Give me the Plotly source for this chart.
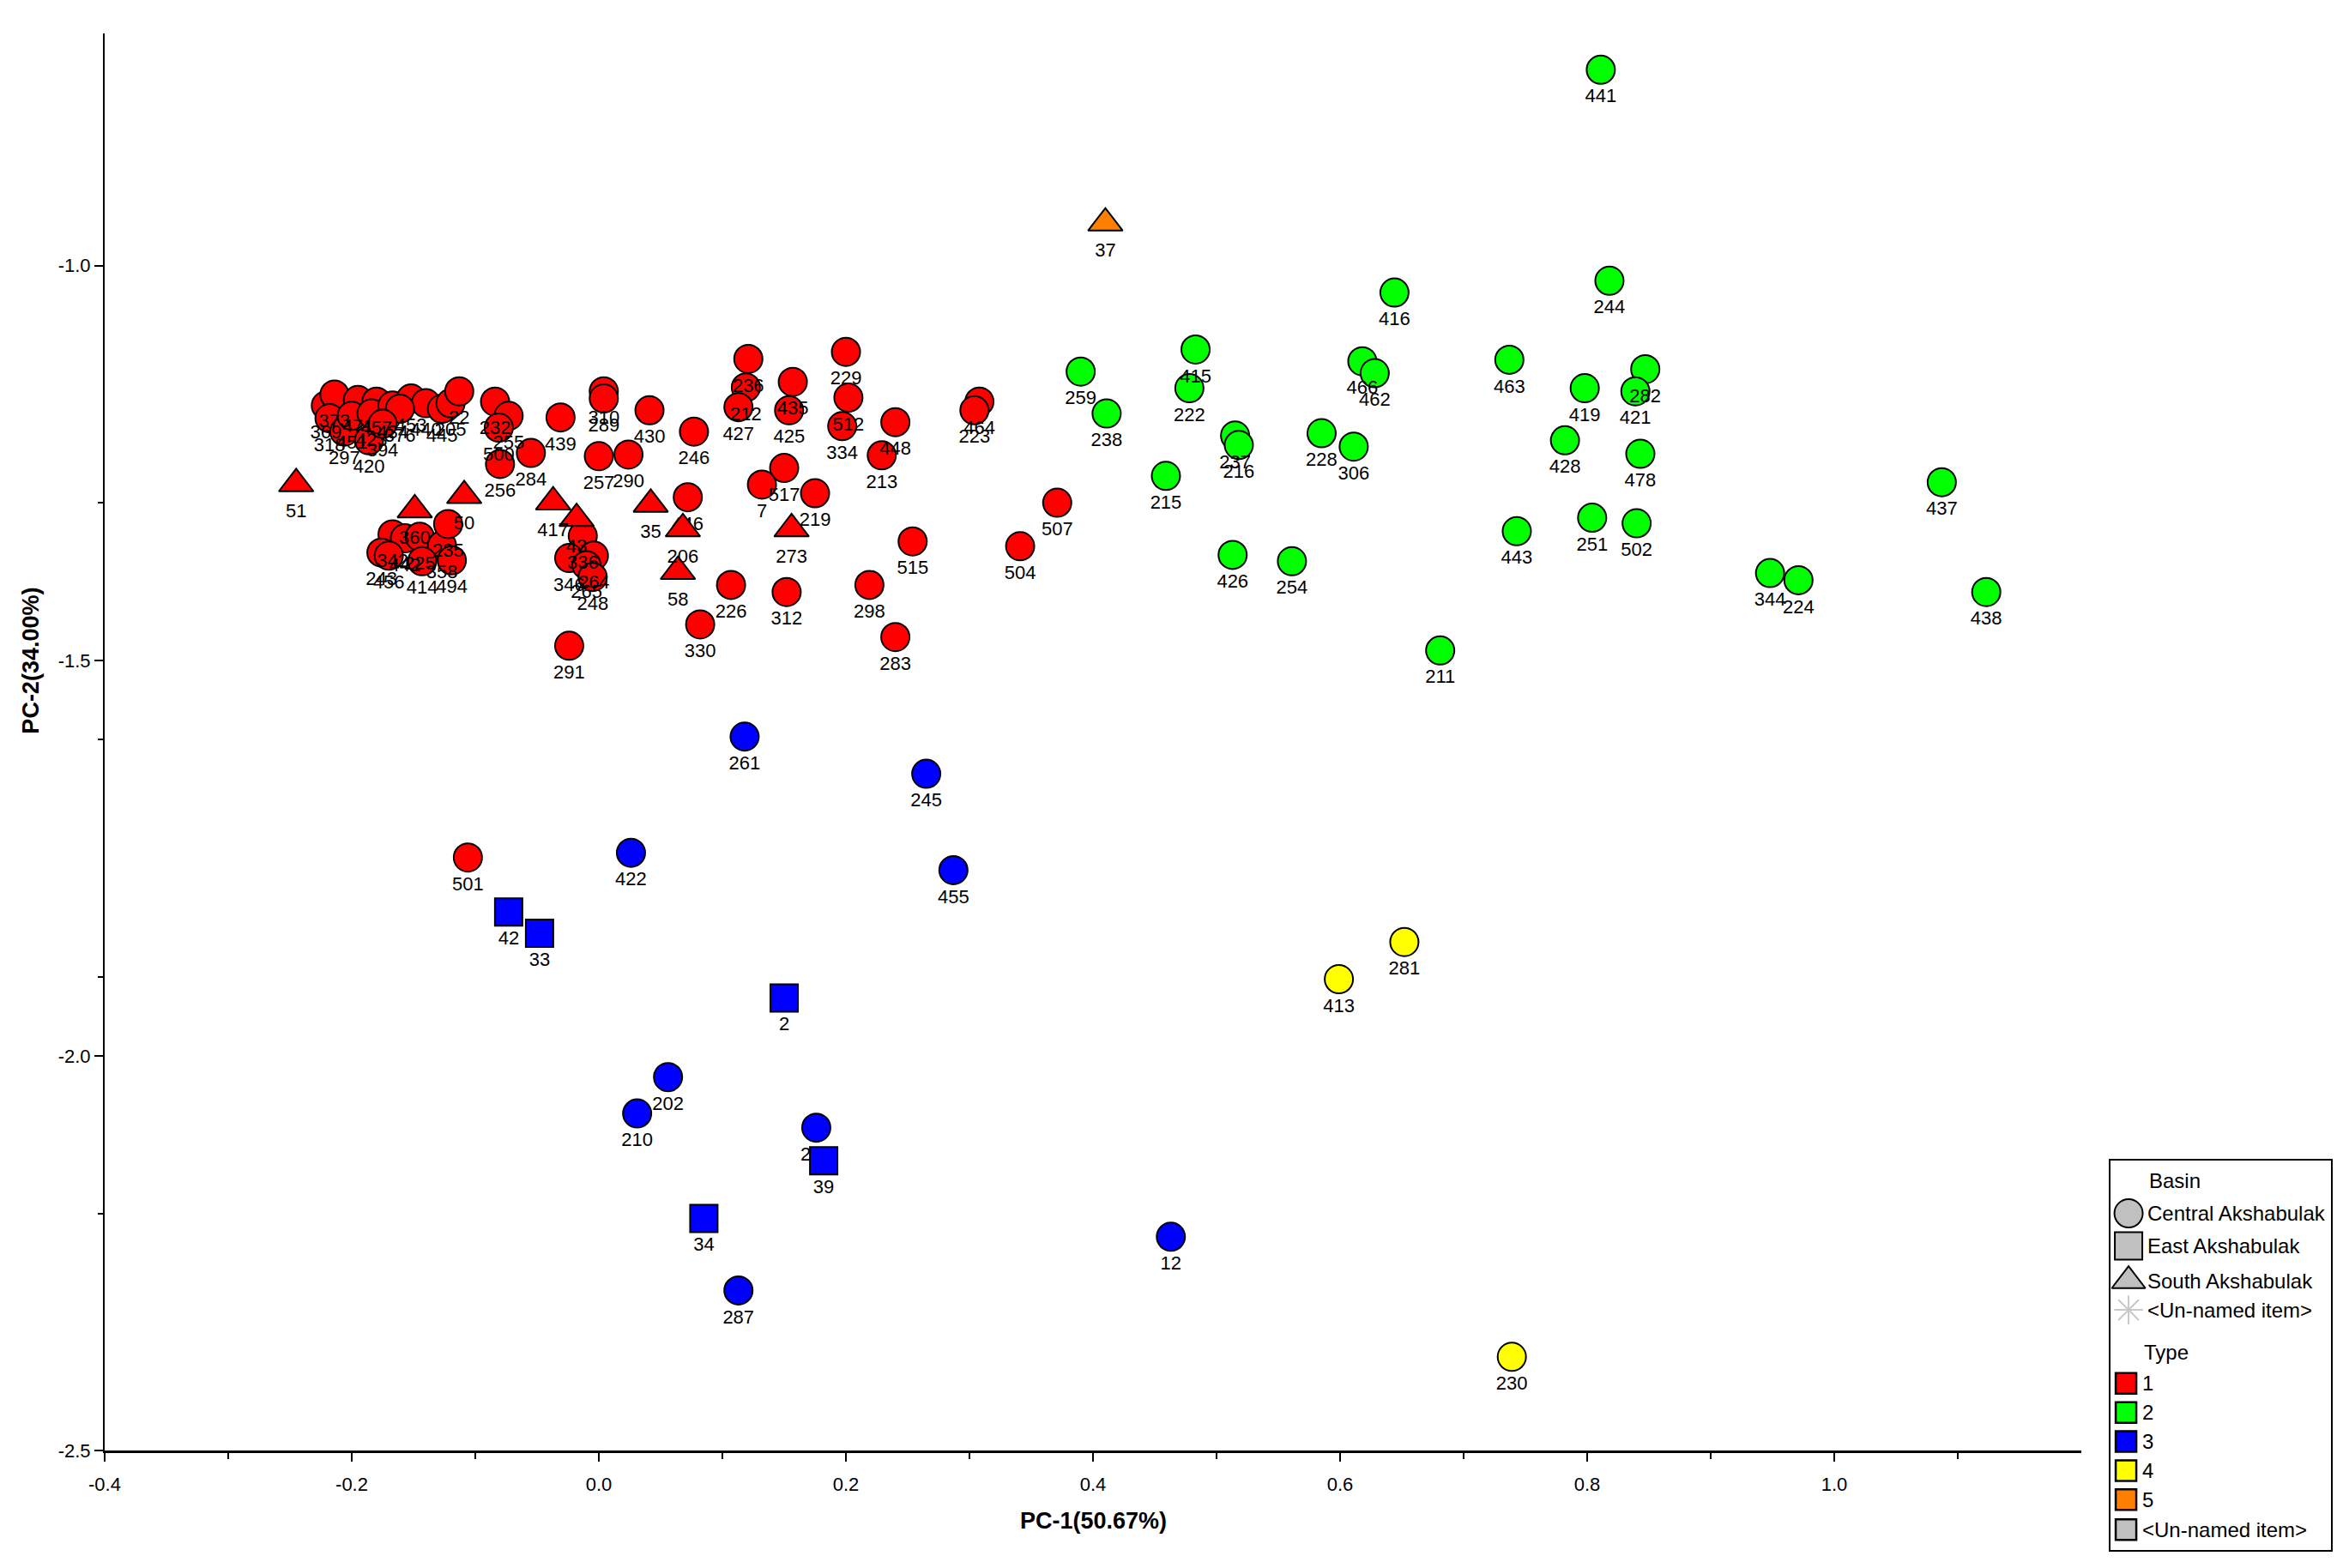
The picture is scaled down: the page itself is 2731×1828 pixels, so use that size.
import plotly.graph_objects as go

# PCA scores (PC-1, PC-2), sample id, type and basin
labels = [
    "369", "373", "318", "297", "420", "471", "451", "457", "423", "434",
    "453", "440", "445", "205", "22", "376", "394", "232", "255", "500",
    "256", "284", "439", "310", "289", "430", "257", "290", "246", "236",
    "212", "427", "435", "425", "229", "512", "334", "448", "213", "464",
    "223", "517", "7", "219", "515", "507", "504", "226", "312", "298",
    "283", "330", "446", "291", "501", "342", "442", "225", "243", "456",
    "358", "414", "235", "494", "336", "346", "264", "265", "248",
    "51", "360", "50", "417", "43", "35", "206", "58", "273",
    "441", "244", "416", "415", "222", "259", "238", "237", "216", "215",
    "228", "306", "466", "462", "426", "254", "211", "463", "419", "282",
    "421", "428", "478", "443", "251", "502", "344", "224", "437", "438",
    "261", "245", "455", "422", "202", "210", "227", "287", "12",
    "42", "33", "2", "39", "34",
    "413", "281", "230",
    "37",
]
pc1 = [
    -0.221, -0.214, -0.218, -0.206, -0.186, -0.195, -0.200, -0.180, -0.184, -0.167,
    -0.152, -0.140, -0.127, -0.120, -0.113, -0.161, -0.175, -0.084, -0.073, -0.081,
    -0.080, -0.055, -0.031, 0.004, 0.004, 0.041, 0.000, 0.024, 0.077, 0.121,
    0.119, 0.113, 0.157, 0.154, 0.200, 0.202, 0.197, 0.240, 0.229, 0.308,
    0.304, 0.150, 0.132, 0.175, 0.254, 0.371, 0.341, 0.107, 0.152, 0.219,
    0.240, 0.082, 0.072, -0.024, -0.106, -0.167, -0.157, -0.145, -0.176, -0.170,
    -0.127, -0.143, -0.122, -0.119, -0.013, -0.024, -0.004, -0.010, -0.005,
    -0.245, -0.149, -0.109, -0.037, -0.018, 0.042, 0.068, 0.064, 0.156,
    0.811, 0.818, 0.644, 0.483, 0.478, 0.390, 0.411, 0.515, 0.518, 0.459,
    0.585, 0.611, 0.618, 0.628, 0.513, 0.561, 0.681, 0.737, 0.798, 0.847,
    0.839, 0.782, 0.843, 0.743, 0.804, 0.840, 0.948, 0.971, 1.087, 1.123,
    0.118, 0.265, 0.287, 0.026, 0.056, 0.031, 0.176, 0.113, 0.463,
    -0.073, -0.048, 0.150, 0.182, 0.085,
    0.599, 0.652, 0.739,
    0.410,
]
pc2 = [
    -1.177, -1.163, -1.193, -1.210, -1.221, -1.170, -1.190, -1.172, -1.187, -1.177,
    -1.168, -1.174, -1.181, -1.174, -1.159, -1.181, -1.200, -1.172, -1.190, -1.205,
    -1.251, -1.237, -1.192, -1.159, -1.168, -1.183, -1.241, -1.239, -1.210, -1.118,
    -1.154, -1.179, -1.147, -1.183, -1.109, -1.167, -1.203, -1.198, -1.240, -1.172,
    -1.183, -1.256, -1.277, -1.288, -1.349, -1.300, -1.355, -1.404, -1.413, -1.404,
    -1.470, -1.454, -1.293, -1.481, -1.749, -1.340, -1.345, -1.343, -1.363, -1.367,
    -1.354, -1.374, -1.327, -1.373, -1.342, -1.370, -1.367, -1.379, -1.394,
    -1.276, -1.309, -1.291, -1.299, -1.320, -1.302, -1.333, -1.387, -1.333,
    -0.752, -1.019, -1.034, -1.106, -1.155, -1.134, -1.187, -1.215, -1.227, -1.266,
    -1.212, -1.229, -1.121, -1.136, -1.366, -1.374, -1.487, -1.119, -1.155, -1.131,
    -1.159, -1.221, -1.238, -1.336, -1.319, -1.326, -1.389, -1.398, -1.274, -1.413,
    -1.596, -1.643, -1.765, -1.743, -2.027, -2.073, -2.091, -2.297, -2.229,
    -1.818, -1.845, -1.927, -2.133, -2.206,
    -1.903, -1.856, -2.381,
    -0.946,
]
sample_type = [1] * 69 + [1] * 9 + [2] * 30 + [3] * 14 + [4] * 3 + [5]
basin = (["Central Akshabulak"] * 69 + ["South Akshabulak"] * 9
         + ["Central Akshabulak"] * 30 + ["Central Akshabulak"] * 9
         + ["East Akshabulak"] * 5 + ["Central Akshabulak"] * 3
         + ["South Akshabulak"])

x_ticks = [-0.4, -0.2, 0.0, 0.2, 0.4, 0.6, 0.8, 1.0]
x_tick_labels = ["-0.4", "-0.2", "0.0", "0.2", "0.4", "0.6", "0.8", "1.0"]
x_minor = [-0.3, -0.1, 0.1, 0.3, 0.5, 0.7, 0.9, 1.1]
y_ticks = [-1.0, -1.5, -2.0, -2.5]
y_tick_labels = ["-1.0", "-1.5", "-2.0", "-2.5"]
y_minor = [-1.3, -1.6, -1.9, -2.2]

basin_names = ["Central Akshabulak", "East Akshabulak", "South Akshabulak", "<Un-named item>"]
type_names = ["1", "2", "3", "4", "5", "<Un-named item>"]

colors = {1: "#FF0000", 2: "#00FF00", 3: "#0000FF", 4: "#FFFF00", 5: "#FF8000"}
symbols = {"Central Akshabulak": ("circle", 33), "East Akshabulak": ("square", 32),
           "South Akshabulak": ("triangle-up", 35)}
FONT = "Liberation Sans, Arial, sans-serif"

fig = go.Figure()

for b in ["Central Akshabulak", "East Akshabulak", "South Akshabulak"]:
    for t in [1, 2, 3, 4, 5]:
        idx = [i for i in range(len(labels)) if basin[i] == b and sample_type[i] == t]
        if not idx:
            continue
        sym, size = symbols[b]
        fig.add_trace(go.Scatter(
            x=[pc1[i] for i in idx], y=[pc2[i] for i in idx],
            text=[labels[i] for i in idx],
            mode="markers+text", textposition="bottom center",
            textfont=dict(family=FONT, size=22, color="black"),
            marker=dict(symbol=sym, size=size, color=colors[t],
                        line=dict(color="black", width=2)),
            showlegend=False, cliponaxis=False,
        ))

# hand-built legend box on its own small axes
leg_sym = [("circle", 33, "#C0C0C0", 2, 62), ("square", 32, "#C0C0C0", 2, 100),
           ("triangle-up", 34, "#C0C0C0", 2, 141), ("asterisk-open", 28, "#C8C8C8", 2, 175)]
for (sym, size, col, lw, yy), name in zip(leg_sym, basin_names):
    fig.add_trace(go.Scatter(
        x=[21], y=[yy], xaxis="x2", yaxis="y2", mode="markers",
        marker=dict(symbol=sym, size=size, color=col,
                    line=dict(color="black" if sym != "asterisk-open" else col, width=lw)),
        showlegend=False, hoverinfo="skip"))
    fig.add_annotation(x=41, y=yy, xref="x2", yref="y2", text=name.replace("<", "&lt;").replace(">", "&gt;"),
                       showarrow=False, xanchor="left", yanchor="middle",
                       font=dict(family=FONT, size=24, color="black"))

type_rows = [261, 295, 329, 363, 397, 432]
type_cols = [colors[1], colors[2], colors[3], colors[4], colors[5], "#C0C0C0"]
for name, yy, col in zip(type_names, type_rows, type_cols):
    fig.add_trace(go.Scatter(
        x=[18], y=[yy], xaxis="x2", yaxis="y2", mode="markers",
        marker=dict(symbol="square", size=24, color=col, line=dict(color="black", width=2.5)),
        showlegend=False, hoverinfo="skip"))
    fig.add_annotation(x=35, y=yy, xref="x2", yref="y2", text=name.replace("<", "&lt;").replace(">", "&gt;"),
                       showarrow=False, xanchor="left", yanchor="middle",
                       font=dict(family=FONT, size=24, color="black"))

fig.add_annotation(x=43, y=24, xref="x2", yref="y2", text="Basin", showarrow=False,
                   xanchor="left", yanchor="middle", font=dict(family=FONT, size=24, color="black"))
fig.add_annotation(x=37, y=225, xref="x2", yref="y2", text="Type", showarrow=False,
                   xanchor="left", yanchor="middle", font=dict(family=FONT, size=24, color="black"))

# axis titles
fig.add_annotation(x=0.4, y=0.0214, xref="x", yref="paper", text="<b>PC-1(50.67%)</b>",
                   showarrow=False, yanchor="middle", font=dict(family=FONT, size=27, color="black"))
fig.add_annotation(x=-0.033, y=-1.5, xref="paper", yref="y", text="<b>PC-2(34.00%)</b>",
                   showarrow=False, textangle=-90, xanchor="center",
                   font=dict(family=FONT, size=27, color="black"))

axis_common = dict(showgrid=False, zeroline=False, showline=True, linecolor="black",
                   ticks="outside", ticklen=10, tickwidth=2, tickcolor="black",
                   tickfont=dict(family=FONT, size=22, color="black"))

fig.update_layout(
    width=2731, height=1828,
    margin=dict(l=114, r=20, t=31, b=18),
    paper_bgcolor="white", plot_bgcolor="white",
    xaxis=dict(range=[-0.4, 1.2], domain=[0, 0.8872], tickmode="array",
               tickvals=x_ticks, ticktext=x_tick_labels, ticklabelstandoff=7, linewidth=3,
               minor=dict(tickvals=x_minor, ticks="outside", ticklen=7, tickwidth=2,
                          tickcolor="black"),
               **axis_common),
    yaxis=dict(range=[-2.5, -0.706], domain=[0.0675, 1], tickmode="array",
               tickvals=y_ticks, ticktext=y_tick_labels, linewidth=2,
               minor=dict(tickvals=y_minor, ticks="outside", ticklen=6, tickwidth=2,
                          tickcolor="black"),
               **axis_common),
    xaxis2=dict(domain=[0.9003, 0.9992], range=[0, 257], anchor="y2", showgrid=False,
                zeroline=False, showticklabels=False, ticks="", showline=True,
                mirror=True, linecolor="black", linewidth=2, fixedrange=True),
    yaxis2=dict(domain=[0.0022, 0.2586], range=[456, 0], anchor="x2", showgrid=False,
                zeroline=False, showticklabels=False, ticks="", showline=True,
                mirror=True, linecolor="black", linewidth=2, fixedrange=True),
    showlegend=False,
)

fig.write_html("out.html")
